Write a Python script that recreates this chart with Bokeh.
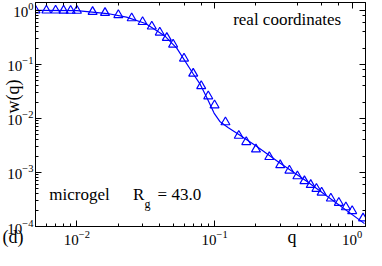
import math
from bokeh.plotting import figure
from bokeh.models import LogAxis, Label, Range1d, CustomJSTickFormatter, FixedTicker
from bokeh.embed import file_html
from bokeh.resources import INLINE

# measured points (triangles)
q_data = [0.005, 0.006, 0.007, 0.008, 0.009, 0.010, 0.013, 0.016, 0.020, 0.025,
          0.030, 0.035, 0.040, 0.045, 0.050, 0.060, 0.070, 0.080, 0.090, 0.100,
          0.120, 0.150, 0.170, 0.200, 0.250, 0.300, 0.350, 0.400, 0.450, 0.500,
          0.550, 0.600, 0.700, 0.800, 0.900, 1.000, 1.200]
w_data = [1.0, 1.0, 1.0, 0.995, 0.99, 0.99, 0.941, 0.903, 0.823, 0.719,
          0.612, 0.505, 0.391, 0.311, 0.234, 0.129, 0.0677, 0.0399, 0.0258, 0.0176,
          0.00854, 0.0048, 0.00367, 0.00268, 0.00194, 0.00137, 0.00109, 0.000854, 0.000694, 0.00059,
          0.000501, 0.000426, 0.000331, 0.000276, 0.000228, 0.000194, 0.000142]

# fitted curve
q_fit = [0.005, 0.010, 0.01665, 0.0229, 0.0315, 0.0433, 0.0533, 0.0699, 0.0781, 0.0887,
         0.0992, 0.1092, 0.126, 0.155, 0.203, 0.293, 0.473, 0.763, 1.23]
w_fit = [1.0, 0.988, 0.875, 0.750, 0.571, 0.341, 0.1986, 0.0672, 0.0442, 0.0231,
         0.01256, 0.00882, 0.00675, 0.0048, 0.00303, 0.00155, 0.000675, 0.000276, 0.000113]

x_lo, x_hi = 0.005, 1.25
y_lo, y_hi = 1e-4, 1.4

FONT = "Liberation Serif"
BLUE = "#0000ff"
NB = "\u00a0"

p = figure(width=366, height=250, x_axis_type="log", y_axis_type="log",
           x_range=Range1d(x_lo, x_hi), y_range=Range1d(y_lo, y_hi),
           output_backend="svg", toolbar_location=None,
           min_border_left=33, min_border_right=1, min_border_top=2, min_border_bottom=24)
p.xgrid.visible = False
p.ygrid.visible = False
p.outline_line_color = "black"
p.background_fill_color = "white"
p.border_fill_color = "white"

def style_axis(ax, labels=True):
    ax.axis_line_color = "black"
    ax.major_tick_line_color = "black"
    ax.minor_tick_line_color = "black"
    ax.major_tick_in = 6
    ax.major_tick_out = 0
    ax.minor_tick_in = 3
    ax.minor_tick_out = 0
    ax.major_label_text_font = FONT
    ax.major_label_text_color = "black"
    if labels:
        ax.major_label_text_font_size = "15px"
    else:
        ax.formatter = CustomJSTickFormatter(code="return ''")
        ax.major_label_text_font_size = "1px"
        ax.major_label_standoff = 0

style_axis(p.xaxis[0])
style_axis(p.yaxis[0])
p.xaxis[0].major_label_standoff = 4
p.yaxis[0].major_label_standoff = 2

# y axis title
ya = p.yaxis[0]
ya.axis_label = NB * 8 + "w(q)"
ya.axis_label_text_font = FONT
ya.axis_label_text_font_size = "18px"
ya.axis_label_text_font_style = "normal"
ya.axis_label_text_color = "black"
ya.axis_label_standoff = -19

for loc in ("above", "right"):
    ax = LogAxis()
    style_axis(ax, labels=False)
    p.add_layout(ax, loc)

# extra texts below the frame: panel tag and x title
q_title_at = 0.366
bx = LogAxis(ticker=FixedTicker(ticks=[x_lo, q_title_at]),
             major_label_overrides={x_lo: "(d)" + NB * 10, q_title_at: "q"},
             axis_line_color=None, major_tick_line_color=None, minor_tick_line_color=None,
             major_tick_in=0, major_tick_out=0, minor_tick_in=0, minor_tick_out=0,
             major_label_standoff=-21, major_label_text_font=FONT,
             major_label_text_font_size="18px", major_label_text_color="black")
p.add_layout(bx, "below")

p.line(q_fit, w_fit, line_color=BLUE, line_width=1.2)
p.scatter(q_data, w_data, marker="triangle", size=9, fill_color=None,
          line_color=BLUE, line_width=1.2)

def lab(text, x, y, size, **kw):
    p.add_layout(Label(text=text, x=x, y=y,
                       text_font=FONT, text_font_size=size, text_color="black", **kw))

lab("real coordinates", 0.1365, 0.448, "17px")
lab("microgel", 0.0063, 2.65e-4, "17px")
lab("R", 0.0256, 2.65e-4, "17px")
lab("g", 0.0256, 2.65e-4, "12px", x_offset=11.5, y_offset=-7)
lab("= 43.0", 0.0256, 2.65e-4, "17px", x_offset=24.5)

open("out.html", "w").write(file_html(p, INLINE))
